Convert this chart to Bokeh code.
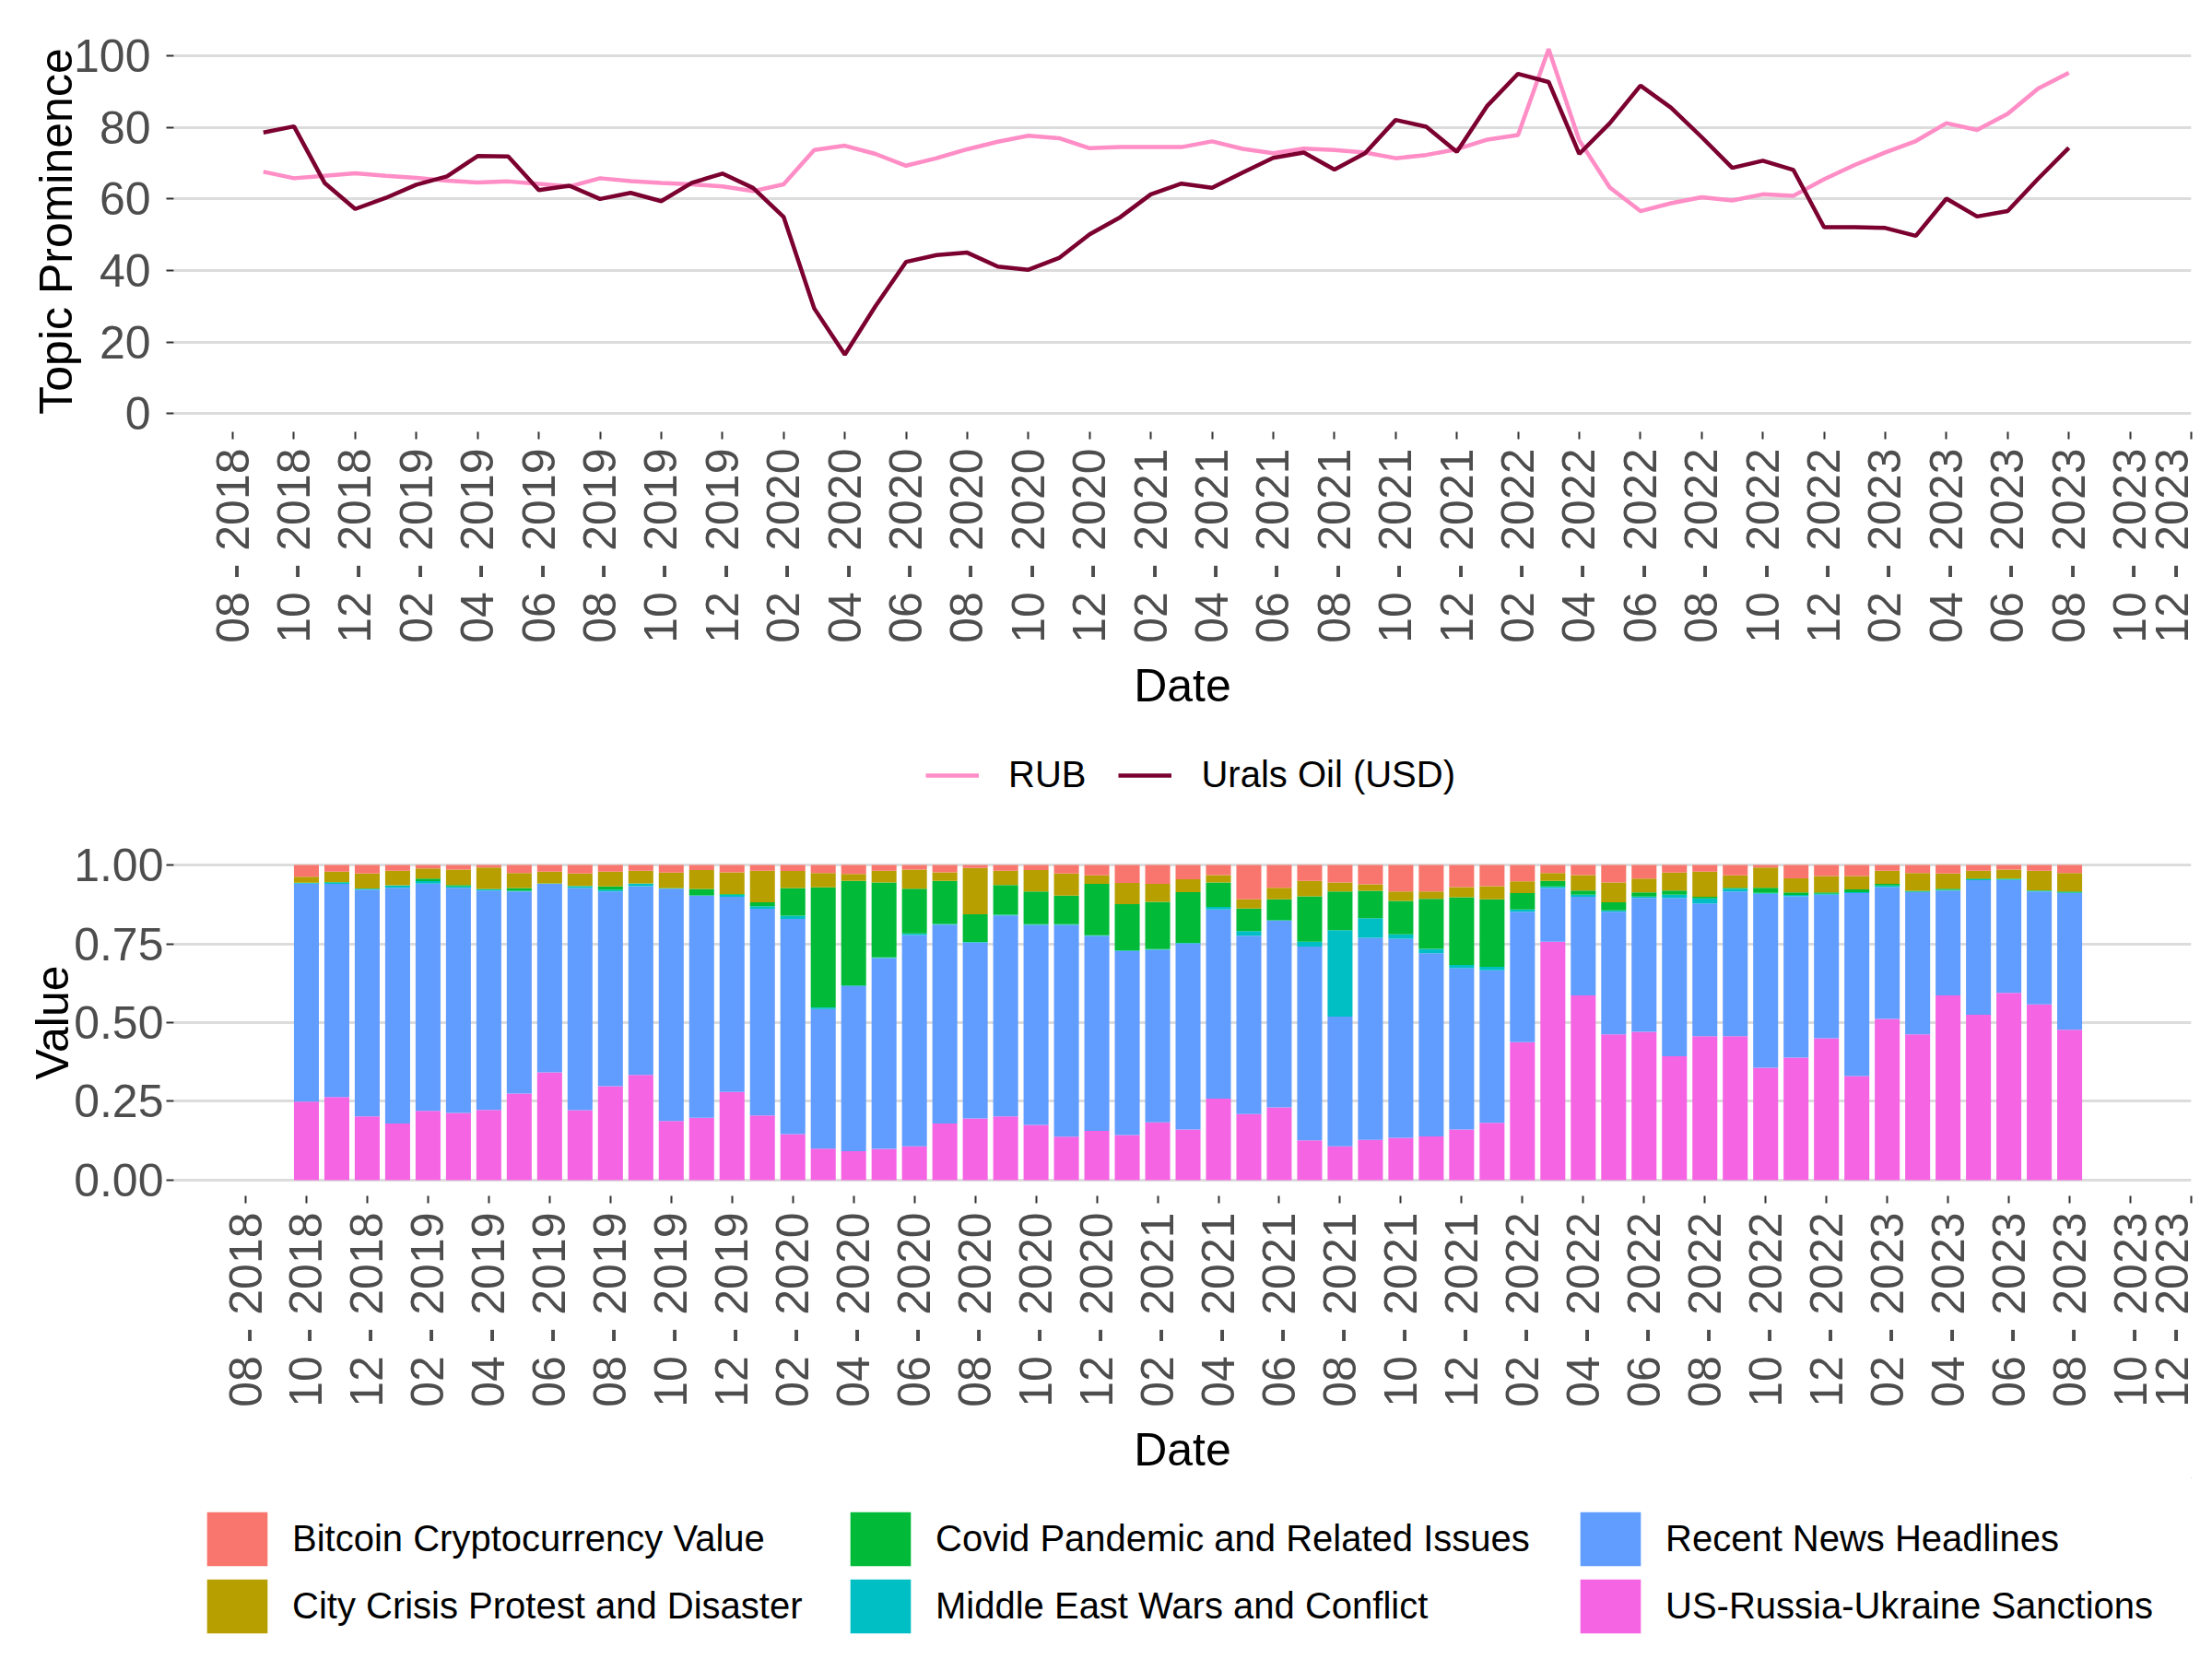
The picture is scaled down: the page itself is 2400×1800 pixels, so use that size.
import math
from bokeh.plotting import figure
from bokeh.models import (ColumnDataSource, Range1d, FixedTicker, Legend, LegendItem,
                          NumeralTickFormatter)
from bokeh.layouts import column
from bokeh.embed import file_html
from bokeh.resources import INLINE

# ---------------- data ----------------
line_start, line_count = "2018-09", 60
bar_start, bar_count = "2018-10", 59

rub = [67.6, 65.8, 66.5, 67.2, 66.5, 65.9, 65.1, 64.6, 64.9, 64.2,
       63.5, 65.8, 65.0, 64.5, 64.1, 63.5, 62.2, 64.1, 73.7, 74.9,
       72.6, 69.3, 71.4, 73.9, 76.0, 77.7, 77.0, 74.2, 74.5, 74.5,
       74.5, 76.1, 74.0, 72.8, 74.1, 73.7, 73.0, 71.4, 72.3, 73.9,
       76.6, 77.9, 101.9, 76.4, 63.2, 56.6, 58.8, 60.5, 59.6, 61.3,
       60.9, 65.5, 69.5, 73.0, 76.2, 81.2, 79.3, 83.8, 90.9, 95.3]
urals = [78.6, 80.3, 64.5, 57.2, 60.3, 64.0, 66.3, 72.0, 71.9, 62.5,
         63.7, 60.0, 61.7, 59.4, 64.5, 67.1, 63.1, 55.0, 29.4, 16.5,
         30.0, 42.4, 44.3, 45.0, 41.1, 40.2, 43.5, 50.1, 54.9, 61.3,
         64.3, 63.1, 67.4, 71.5, 73.0, 68.2, 72.8, 82.1, 80.2, 73.2,
         86.1, 95.0, 92.7, 72.6, 81.2, 91.7, 85.5, 77.3, 68.7, 70.7,
         68.1, 52.1, 52.1, 51.9, 49.7, 60.1, 55.1, 56.6, 65.7, 74.3]

sanctions = [.249, .264, .202, .180, .220, .213, .223, .275, .342, .222,
             .298, .334, .188, .198, .280, .205, .146, .100, .092, .099,
             .107, .180, .196, .202, .175, .138, .156, .143, .183, .161,
             .259, .210, .231, .126, .107, .128, .134, .139, .161, .182,
             .438, .757, .586, .463, .471, .393, .457, .457, .357, .389,
             .450, .330, .512, .463, .586, .525, .594, .558, .477]
recent = [.692, .676, .720, .748, .721, .715, .696, .641, .598, .705,
          .618, .599, .737, .704, .619, .656, .683, .443, .524, .606,
          .671, .631, .558, .638, .635, .672, .619, .584, .548, .590,
          .600, .566, .592, .615, .412, .641, .632, .581, .512, .484,
          .414, .170, .313, .389, .425, .503, .421, .459, .552, .512,
          .456, .581, .418, .451, .333, .427, .359, .358, .434]
mideast = [.002, .005, .003, .007, .008, .004, .004, .002, .001, .006,
           .006, .008, .001, .002, .007, .008, .010, .005, .002, .002,
           .005, .002, .002, .002, .002, .002, .002, .002, .002, .002,
           .008, .014, .002, .016, .274, .062, .014, .014, .010, .011,
           .007, .005, .007, .004, .004, .010, .016, .009, .003, .004,
           .003, .003, .005, .002, .002, .003, .003, .002, .002]
covid = [.001, .001, .001, .001, .008, .005, .001, .009, .001, .001,
         .010, .001, .001, .020, .002, .013, .088, .381, .332, .238,
         .142, .137, .088, .095, .104, .091, .163, .147, .150, .161,
         .078, .072, .066, .144, .123, .087, .106, .159, .215, .214,
         .052, .018, .013, .026, .013, .013, .005, .003, .016, .008,
         .004, .009, .005, .002, .004, .002, .001, .002, .003]
city = [.019, .033, .047, .046, .032, .049, .068, .048, .037, .039,
        .047, .040, .049, .060, .069, .100, .054, .046, .022, .037,
        .061, .027, .147, .045, .068, .070, .027, .067, .057, .041,
        .023, .029, .037, .049, .029, .021, .030, .023, .032, .042,
        .037, .025, .049, .063, .044, .057, .080, .039, .064, .045,
        .052, .042, .042, .057, .048, .025, .029, .062, .059]
bitcoin = [.037, .021, .027, .018, .011, .014, .008, .025, .021, .027,
           .021, .018, .024, .016, .023, .018, .019, .025, .028, .018,
           .014, .023, .009, .018, .016, .027, .033, .057, .060, .045,
           .032, .109, .072, .050, .055, .061, .084, .084, .070, .067,
           .052, .025, .032, .055, .043, .024, .021, .033, .008, .042,
           .035, .035, .018, .025, .027, .018, .014, .018, .025]

topic_keys = ["sanctions", "recent", "mideast", "covid", "city", "bitcoin"]
topic_names = {
    "bitcoin": "Bitcoin Cryptocurrency Value",
    "city": "City Crisis Protest and Disaster",
    "covid": "Covid Pandemic and Related Issues",
    "mideast": "Middle East Wars and Conflict",
    "recent": "Recent News Headlines",
    "sanctions": "US-Russia-Ukraine Sanctions",
}
topic_colors = {
    "bitcoin": "#F8766D",
    "city": "#B79F00",
    "covid": "#00BA38",
    "mideast": "#00BFC4",
    "recent": "#619CFF",
    "sanctions": "#F564E3",
}
rub_color = "#FF8DC6"
urals_color = "#7B0030"

# ---------------- helpers ----------------
def month_index(s):
    y, m = s.split("-")
    return (int(y) - 2018) * 12 + int(m) - 1

def month_seq(start, n):
    i0 = month_index(start)
    return [i0 + k for k in range(n)]

line_x = month_seq(line_start, line_count)
bar_x = month_seq(bar_start, bar_count)

tick_idx = list(range(month_index("2018-08"), month_index("2023-12") + 1, 2))
tick_labels = {i: f"{(i % 12) + 1:02d} - {2018 + i // 12}" for i in tick_idx}

FONT = "Liberation Sans"
W = 2384
LB, RB = 188, 7
X_HI = month_index("2023-12")
TOP_X_LO = month_index("2018-06") + 0.07
BOT_X_LO = 4.635


def style_axes(p, ylabel, ylab_standoff, ytitle_standoff):
    for ax in p.axis:
        ax.axis_line_color = None
        ax.major_tick_line_color = "#333333"
        ax.major_tick_line_width = 2
        ax.major_tick_out = 8
        ax.major_tick_in = 0
        ax.minor_tick_line_color = None
        ax.major_label_text_font = FONT
        ax.major_label_text_font_size = "50px"
        ax.major_label_text_color = "#4D4D4D"
        ax.axis_label_text_font = FONT
        ax.axis_label_text_font_size = "50px"
        ax.axis_label_text_font_style = "normal"
        ax.axis_label_text_color = "black"
    p.xaxis.ticker = FixedTicker(ticks=tick_idx)
    p.xaxis.major_label_overrides = tick_labels
    p.xaxis.major_label_orientation = math.pi / 2
    p.xaxis.major_label_standoff = 10
    p.xaxis.axis_label = "Date"
    p.xaxis.axis_label_standoff = 15
    p.yaxis.major_label_standoff = ylab_standoff
    p.yaxis.axis_label = ylabel
    p.yaxis.axis_label_standoff = ytitle_standoff
    p.xgrid.visible = False
    p.ygrid.grid_line_color = "#DCDCDC"
    p.ygrid.grid_line_width = 3
    p.outline_line_color = None


def legend_figure(height):
    f = figure(width=W, height=height, output_backend="svg", toolbar_location=None,
               x_range=Range1d(0, 1), y_range=Range1d(0, 1),
               x_axis_location=None, y_axis_location=None,
               min_border_left=LB, min_border_right=RB,
               min_border_top=0, min_border_bottom=0)
    f.grid.visible = False
    f.outline_line_color = None
    return f


# ---------------- top figure: lines ----------------
top = figure(width=W, height=792, output_backend="svg", toolbar_location=None,
             x_range=Range1d(TOP_X_LO, X_HI), y_range=Range1d(-5.1, 107),
             min_border_left=LB, min_border_right=RB, min_border_top=33,
             min_border_bottom=324)
style_axes(top, "Topic Prominence", 17, -12)
top.yaxis.ticker = FixedTicker(ticks=[0, 20, 40, 60, 80, 100])

line_src = ColumnDataSource(dict(x=line_x, rub=rub, urals=urals))
top.line("x", "rub", source=line_src, line_color=rub_color, line_width=4.5)
top.line("x", "urals", source=line_src, line_color=urals_color, line_width=4.5)

# ---------------- legend for the lines ----------------
leg1 = legend_figure(80)
d_rub = leg1.line(x=[5, 6], y=[5, 5], line_color=rub_color, line_width=4.5)
d_urals = leg1.line(x=[5, 6], y=[5, 5], line_color=urals_color, line_width=4.5)
leg1.add_layout(Legend(items=[LegendItem(label="RUB", renderers=[d_rub]),
                              LegendItem(label="Urals Oil (USD)", renderers=[d_urals])],
                       orientation="horizontal", location=(816, 9),
                       glyph_width=58, glyph_height=40, label_height=40,
                       label_standoff=32, spacing=35,
                       padding=0, margin=0, border_line_color=None,
                       background_fill_alpha=0,
                       label_text_font=FONT, label_text_font_size="40px",
                       label_text_color="black"), "center")

# ---------------- bottom figure: stacked bars ----------------
bot = figure(width=W, height=731, output_backend="svg", toolbar_location=None,
             x_range=Range1d(BOT_X_LO, X_HI), y_range=Range1d(-0.05, 1.05),
             min_border_left=LB, min_border_right=RB, min_border_top=49,
             min_border_bottom=306)
style_axes(bot, "Value", 3, -8)
bot.yaxis.ticker = FixedTicker(ticks=[0, 0.25, 0.5, 0.75, 1.0])
bot.yaxis.formatter = NumeralTickFormatter(format="0.00")

bar_src = ColumnDataSource(dict(x=bar_x, sanctions=sanctions, recent=recent,
                                mideast=mideast, covid=covid, city=city,
                                bitcoin=bitcoin))
bot.vbar_stack(topic_keys, x="x", width=0.82, source=bar_src,
               color=[topic_colors[k] for k in topic_keys], line_color=None)

# ---------------- legend for the topics ----------------
leg2 = legend_figure(181)
dummy = {}
for k in topic_keys:
    dummy[k] = leg2.vbar(x=[5], top=[5], bottom=[4], width=0.5,
                         fill_color=topic_colors[k], line_color=None)

legend_cols = [["bitcoin", "city"], ["covid", "mideast"], ["recent", "sanctions"]]
col_x = [28, 726, 1518]
for keys, lx in zip(legend_cols, col_x):
    leg2.add_layout(Legend(items=[LegendItem(label=topic_names[k], renderers=[dummy[k]])
                                  for k in keys],
                           orientation="vertical", location=(lx, 5),
                           glyph_width=82, glyph_height=73, label_height=73,
                           label_standoff=19, spacing=0,
                           padding=0, margin=0, border_line_color=None,
                           background_fill_alpha=0,
                           label_text_font=FONT, label_text_font_size="40px",
                           label_text_color="black"), "center")

layout = column(top, leg1, bot, leg2, spacing=0)
open("out.html", "w").write(file_html(layout, INLINE))
